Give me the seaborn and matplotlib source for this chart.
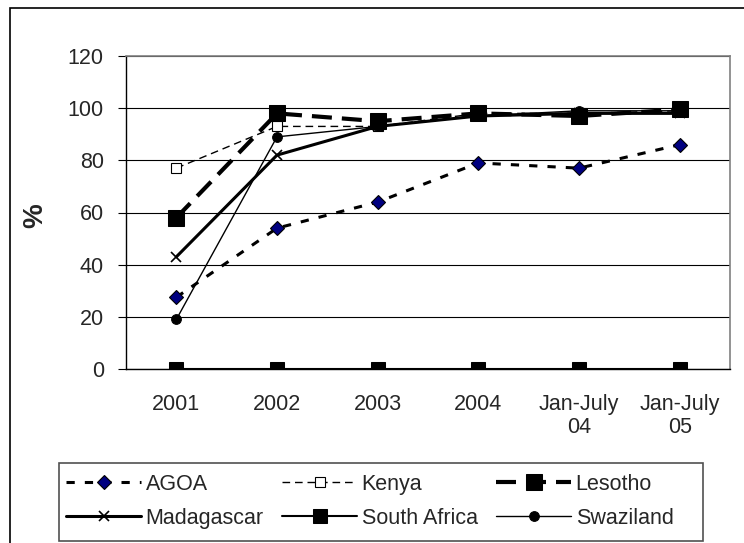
import matplotlib
matplotlib.use("Agg")
import matplotlib.pyplot as plt
import seaborn as sns
import pandas as pd

sns.set_style("white")
plt.rcParams['font.family'] = ['Liberation Sans', 'DejaVu Sans']

periods = ["2001", "2002", "2003", "2004", "Jan-July\n04", "Jan-July\n05"]
agoa = [27.5, 54, 64, 79, 77, 86]
kenya = [77, 93, 93, 98, 98, 99]
lesotho = [58, 98, 95, 98, 97, 99.5]
madagascar = [43, 82, 93, 97, 98, 98]
south_africa = [0, 0, 0, 0, 0, 0]
swaziland = [19, 89, 93, 97, 99, 99]

series = {
    "AGOA": agoa,
    "Kenya": kenya,
    "Lesotho": lesotho,
    "Madagascar": madagascar,
    "South Africa": south_africa,
    "Swaziland": swaziland,
}

styles = {
    "AGOA": dict(color="black", lw=2.2, dashes=(2.7, 3.3), marker="D", ms=7,
                 mfc="#000080", mec="black", mew=0.8),
    "Kenya": dict(color="black", lw=1.0, dashes=(5.5, 3.5), marker="s", ms=6.5,
                  mfc="white", mec="black", mew=0.8),
    "Lesotho": dict(color="black", lw=3.0, dashes=(4.8, 2.4), marker="s", ms=11.5,
                    mfc="black", mec="black"),
    "Madagascar": dict(color="black", lw=2.2, marker="x", ms=7.5,
                       mec="black", mew=1.2),
    "South Africa": dict(color="black", lw=1.5, marker="s", ms=10,
                         mfc="black", mec="black"),
    "Swaziland": dict(color="black", lw=1.0, marker="o", ms=7,
                      mfc="black", mec="black"),
}

x = list(range(len(periods)))
fig = plt.figure(figsize=(7.44, 5.43), dpi=100)
ax = fig.add_axes([126 / 744, 174 / 543, 604 / 744, 313 / 543])

for name, vals in series.items():
    df = pd.DataFrame({"x": x, "y": vals})
    st = dict(styles[name])
    dashes = st.pop("dashes", None)
    sns.lineplot(data=df, x="x", y="y", ax=ax, label=name, **st)
    if dashes is not None:
        ax.lines[-1].set_dashes(dashes)

ax.set_xlim(-0.5, 5.5)
ax.set_ylim(0, 120)
ax.set_yticks(range(0, 121, 20))
ax.yaxis.grid(True, color="black", lw=0.8)
ax.set_xticks(x)
ax.set_xticklabels(periods, fontsize=15.5, linespacing=1.15)
ax.tick_params(axis="x", length=0, pad=18)
ax.set_xticks([i - 0.5 for i in range(len(periods) + 1)], minor=True)
ax.tick_params(axis="x", which="minor", length=6, direction="out", color="black")
ax.tick_params(axis="y", labelsize=15.5, length=6, pad=10, direction="out",
               color="black", left=True)
ax.set_xlabel("")
ax.set_ylabel("%", fontsize=20, fontweight="bold")
ax.yaxis.set_label_coords(-0.128, 0.49)
for side in ["left", "bottom"]:
    ax.spines[side].set_color("black")
    ax.spines[side].set_linewidth(1)
for side in ["top", "right"]:
    ax.spines[side].set_color("#808080")
    ax.spines[side].set_linewidth(1.2)

# Excel fills the legend row by row; matplotlib fills by column
handles, labels = ax.get_legend_handles_labels()
ax.get_legend().remove()
order = [0, 3, 1, 4, 2, 5]
leg = fig.legend([handles[i] for i in order], [labels[i] for i in order],
                 loc="upper left", bbox_to_anchor=(66 / 744, 1 - 474 / 543),
                 ncol=3, fontsize=15.5, frameon=False,
                 handlelength=3.5, handletextpad=0.2, columnspacing=0.85,
                 borderpad=0, labelspacing=0.6, borderaxespad=0)

# legend box and chart border
fig.patches.append(plt.Rectangle((59 / 744, 2 / 543), 644 / 744, 78 / 543,
                                 transform=fig.transFigure, fill=False,
                                 edgecolor="#505050", lw=1.2))
fig.patches.append(plt.Rectangle((10 / 744, -0.01), 1.02, 1 - 8 / 543 + 0.01,
                                 transform=fig.transFigure, fill=False,
                                 edgecolor="black", lw=1.2))

fig.savefig("out.png", dpi=100)
